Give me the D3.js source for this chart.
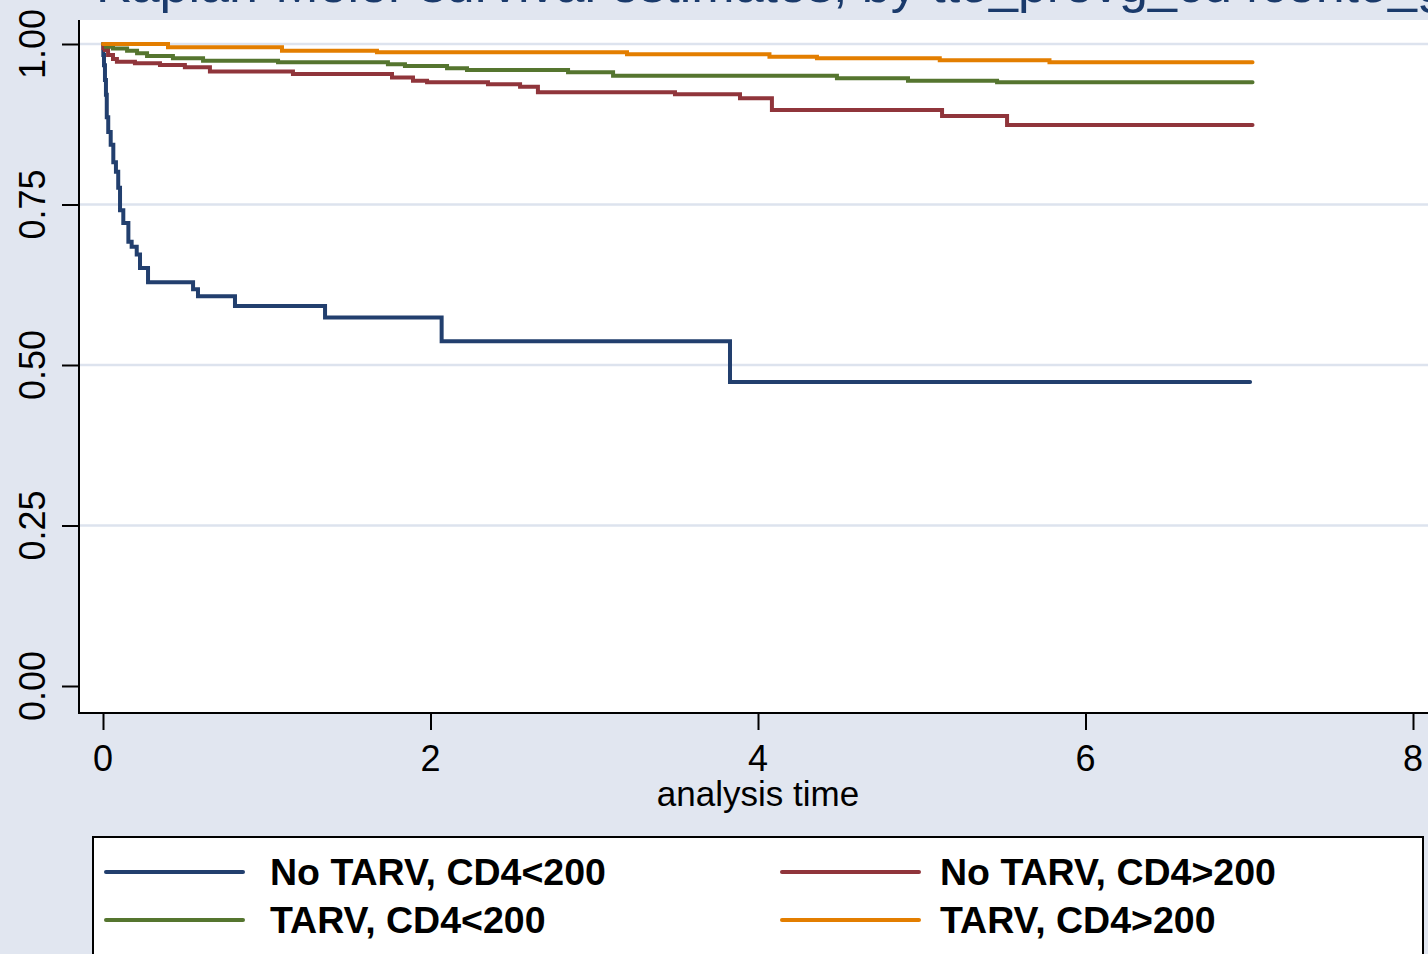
<!DOCTYPE html>
<html>
<head>
<meta charset="utf-8">
<script src="https://cdn.jsdelivr.net/npm/d3@7"></script>
<style>
  html, body { margin: 0; padding: 0; background: #e1e6f0; }
  svg { display: block; }
</style>
</head>
<body>
<svg id="chart" width="1428" height="954"></svg>
<script>
// ---- Data ----
const titleText = "Kaplan-Meier survival estimates, by tto_prevg_cd4cento_g2";
const xTicks = [0, 2, 4, 6, 8];
const yTicks = [0, 0.25, 0.5, 0.75, 1];
const yTickLabels = ["0.00", "0.25", "0.50", "0.75", "1.00"];
const xTitle = "analysis time";

const seriesNames = ["No TARV, CD4<200", "No TARV, CD4>200", "TARV, CD4<200", "TARV, CD4>200"];
const seriesColors = ["#223f6e", "#90353b", "#55752f", "#e37e00"];

const blueT = [0, 0.002, 0.006, 0.012, 0.018, 0.023, 0.032, 0.047, 0.063, 0.079, 0.093, 0.104, 0.124, 0.155, 0.175, 0.206, 0.226, 0.275, 0.550, 0.580, 0.806, 1.356, 2.068, 3.829, 7.005];
const blueS = [1, 0.983, 0.967, 0.944, 0.921, 0.886, 0.863, 0.843, 0.816, 0.801, 0.776, 0.741, 0.721, 0.692, 0.684, 0.672, 0.651, 0.629, 0.618, 0.607, 0.592, 0.574, 0.537, 0.4735, 0.4735];

const redT = [0, 0.003, 0.012, 0.031, 0.061, 0.085, 0.195, 0.348, 0.50, 0.653, 1.16, 1.765, 1.893, 1.979, 2.351, 2.547, 2.656, 3.493, 3.89, 4.085, 5.124, 5.521, 7.02];
const redS = [1, 0.9933, 0.9907, 0.9829, 0.9766, 0.9724, 0.97, 0.9673, 0.9637, 0.9572, 0.9533, 0.9478, 0.9428, 0.9403, 0.9372, 0.9335, 0.9248, 0.9217, 0.9154, 0.8972, 0.8879, 0.8738, 0.8738];

const greenT = [0, 0.018, 0.061, 0.147, 0.208, 0.269, 0.427, 0.611, 1.069, 1.740, 1.844, 2.101, 2.223, 2.840, 3.115, 4.482, 4.916, 5.460, 7.02];
const greenS = [1, 0.9958, 0.993, 0.9896, 0.9855, 0.9813, 0.9777, 0.974, 0.9715, 0.9684, 0.9657, 0.9622, 0.9595, 0.956, 0.9507, 0.9466, 0.9429, 0.9403, 0.9403];

const orangeT = [0, 0.397, 1.093, 1.673, 3.20, 4.07, 4.36, 5.11, 5.78, 7.02];
const orangeS = [1, 0.9949, 0.9896, 0.9871, 0.9840, 0.9802, 0.9777, 0.9746, 0.9715, 0.9715];

const seriesTimes = [blueT, redT, greenT, orangeT];
const seriesSurv = [blueS, redS, greenS, orangeS];

// ---- Layout ----
const svg = d3.select("#chart");
const W = 1428, H = 954;
const plot = { left: 79, top: 20, right: 1440, bottom: 713 };
const x = d3.scaleLinear().domain([0, 8]).range([103, 1413]);
const y = d3.scaleLinear().domain([0, 1]).range([686, 44]);
const font = "'Liberation Sans', Arial, Helvetica, sans-serif";

svg.append("rect").attr("width", W).attr("height", H).attr("fill", "#e1e6f0");

// title (clipped at the top in the reference)
svg.append("text")
  .attr("x", 96).attr("y", 2)
  .attr("font-family", font).attr("font-size", 52)
  .attr("fill", "#1a3a6b")
  .text(titleText);

// plot region
svg.append("rect")
  .attr("x", plot.left).attr("y", plot.top)
  .attr("width", plot.right - plot.left).attr("height", plot.bottom - plot.top)
  .attr("fill", "#ffffff");

// gridlines
svg.append("g").selectAll("line")
  .data(yTicks.filter(d => d > 0))
  .join("line")
  .attr("x1", plot.left + 1).attr("x2", plot.right)
  .attr("y1", d => y(d)).attr("y2", d => y(d))
  .attr("stroke", "#dde3ee").attr("stroke-width", 2.5);

// y axis
const yAxis = svg.append("g")
  .attr("transform", `translate(${plot.left},0)`)
  .call(d3.axisLeft(y).tickValues(yTicks).tickSize(17).tickFormat(""));
yAxis.select(".domain").remove();
yAxis.selectAll(".tick line").attr("stroke", "#000").attr("stroke-width", 2);
svg.append("line")
  .attr("x1", plot.left).attr("x2", plot.left)
  .attr("y1", plot.top).attr("y2", plot.bottom + 1)
  .attr("stroke", "#000").attr("stroke-width", 2);
svg.append("g").selectAll("text")
  .data(yTicks)
  .join("text")
  .attr("transform", d => `translate(45,${y(d)}) rotate(-90)`)
  .attr("text-anchor", "middle")
  .attr("font-family", font).attr("font-size", 36)
  .attr("fill", "#000")
  .text((d, i) => yTickLabels[i]);

// x axis
const xAxis = svg.append("g")
  .attr("transform", `translate(0,${plot.bottom})`)
  .call(d3.axisBottom(x).tickValues(xTicks).tickSize(17).tickFormat(""));
xAxis.select(".domain").remove();
xAxis.selectAll(".tick line").attr("stroke", "#000").attr("stroke-width", 2);
svg.append("line")
  .attr("x1", plot.left - 1).attr("x2", plot.right)
  .attr("y1", plot.bottom).attr("y2", plot.bottom)
  .attr("stroke", "#000").attr("stroke-width", 2);
svg.append("g").selectAll("text")
  .data(xTicks)
  .join("text")
  .attr("x", d => x(d)).attr("y", 771)
  .attr("text-anchor", "middle")
  .attr("font-family", font).attr("font-size", 36)
  .attr("fill", "#000")
  .text(d => d3.format("d")(d));

svg.append("text")
  .attr("x", x(4)).attr("y", 806)
  .attr("text-anchor", "middle")
  .attr("font-family", font).attr("font-size", 35)
  .attr("fill", "#000")
  .text(xTitle);

// survival step curves
const line = d3.line()
  .x(d => x(d[0])).y(d => y(d[1]))
  .curve(d3.curveStepAfter);
const curves = svg.append("g");
seriesNames.forEach((name, i) => {
  const pts = seriesTimes[i].map((t, j) => [t, seriesSurv[i][j]]);
  curves.append("path")
    .attr("d", line(pts))
    .attr("fill", "none")
    .attr("stroke", seriesColors[i])
    .attr("stroke-width", 4)
    .attr("stroke-linejoin", "miter")
    .attr("stroke-linecap", "round");
});

// legend
const legend = svg.append("g");
legend.append("rect")
  .attr("x", 93).attr("y", 837)
  .attr("width", 1330).attr("height", 140)
  .attr("fill", "#ffffff").attr("stroke", "#000").attr("stroke-width", 2);
const legendOrder = [0, 1, 2, 3]; // row-major, 2 columns
const colX = [106, 782];
const rowY = [872, 920];
legendOrder.forEach((si, k) => {
  const c = k % 2, r = Math.floor(k / 2);
  legend.append("line")
    .attr("x1", colX[c]).attr("x2", colX[c] + 137)
    .attr("y1", rowY[r]).attr("y2", rowY[r])
    .attr("stroke", seriesColors[si]).attr("stroke-width", 4)
    .attr("stroke-linecap", "round");
  legend.append("text")
    .attr("x", colX[c] + (c === 0 ? 164 : 158)).attr("y", rowY[r] + 13)
    .attr("font-family", font).attr("font-size", 37.5).attr("font-weight", "bold")
    .attr("fill", "#000")
    .text(seriesNames[si]);
});
</script>
</body>
</html>
